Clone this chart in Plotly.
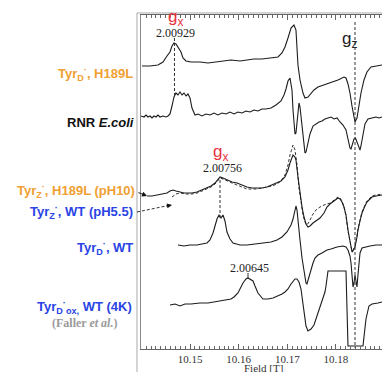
import plotly.graph_objects as go

# ---------------- data (field in T, intensity in arbitrary units) ----------------
field_tyrD_h189l = [10.14014, 10.14178, 10.14342, 10.14445, 10.14527, 10.14589, 10.14630, 10.14671, 10.14712, 10.14753,
                    10.14815, 10.14856, 10.14918, 10.15021, 10.15206, 10.15370, 10.15534, 10.15699, 10.15843, 10.16028,
                    10.16192, 10.16315, 10.16480, 10.16665, 10.16808, 10.16891, 10.16952, 10.17014, 10.17076, 10.17137,
                    10.17178, 10.17219, 10.17261, 10.17322, 10.17363, 10.17425, 10.17487, 10.17548, 10.17630, 10.17754,
                    10.17898, 10.18041, 10.18165, 10.18206, 10.18247, 10.18288, 10.18329, 10.18370, 10.18391, 10.18432,
                    10.18473, 10.18514, 10.18576, 10.18637, 10.18720, 10.18822, 10.18946]
int_tyrD_h189l = [-4, -4, -3, 0, 6, 10, 16, 19, 18, 15,
                  10, 4, 1, 0, 0, -1, 0, 1, 2, 1,
                  2, 3, 3, 4, 5, 9, 15, 24, 34, 37,
                  32, -3, -18, -31, -36, -35, -31, -28, -25, -23,
                  -20, -18, -15, -16, -22, -31, -44, -56, -60, -56,
                  -44, -31, -18, -10, -5, -4, -3]

field_rnr = [10.13993, 10.14055, 10.14096, 10.14137, 10.14178, 10.14219, 10.14260, 10.14301, 10.14342, 10.14383,
             10.14445, 10.14507, 10.14548, 10.14589, 10.14630, 10.14671, 10.14712, 10.14753, 10.14794, 10.14836,
             10.14877, 10.14918, 10.14959, 10.15000, 10.15041, 10.15103, 10.15164, 10.15247, 10.15329, 10.15411,
             10.15493, 10.15575, 10.15658, 10.15740, 10.15822, 10.15904, 10.15986, 10.16069, 10.16151, 10.16233,
             10.16315, 10.16397, 10.16480, 10.16562, 10.16665, 10.16767, 10.16870, 10.16932, 10.16973, 10.17014,
             10.17055, 10.17096, 10.17117, 10.17137, 10.17158, 10.17178, 10.17199, 10.17219, 10.17240, 10.17261,
             10.17302, 10.17322, 10.17363, 10.17384, 10.17425, 10.17466, 10.17528, 10.17589, 10.17651, 10.17713,
             10.17774, 10.17836, 10.17898, 10.17959, 10.18021, 10.18083, 10.18144, 10.18206, 10.18247, 10.18288,
             10.18309, 10.18329, 10.18370, 10.18401, 10.18432, 10.18473, 10.18494, 10.18514, 10.18555, 10.18596,
             10.18658, 10.18740, 10.18822, 10.18884, 10.18946]
int_rnr = [0, -1, 1, -1, 0, -2, 0, -1, 1, -1,
           0, -1, 0, 2, 10, 19, 23, 21, 24, 21,
           23, 20, 22, 18, 8, 1, 2, 0, 2, 1,
           3, 1, 3, 2, 4, 2, 4, 3, 5, 4,
           6, 5, 7, 7, 8, 11, 15, 21, 27, 35,
           38, 26, 6, -9, -18, -17, -6, 8, 13, 9,
           -9, -24, -37, -36, -27, -18, -10, -8, -6, -5,
           -3, -2, -1, -3, -2, -6, -9, -14, -23, -32,
           -33, -30, -23, -22, -26, -32, -34, -30, -17, -8,
           -3, -2, -1, -2, -1]

field_tyrZ_h189l = [10.14116, 10.14219, 10.14322, 10.14425, 10.14527, 10.14589, 10.14651, 10.14712, 10.14794, 10.14877,
                    10.14959, 10.15041, 10.15144, 10.15247, 10.15349, 10.15432, 10.15514, 10.15575, 10.15617, 10.15678,
                    10.15760, 10.15863, 10.15966, 10.16069, 10.16171, 10.16274, 10.16377, 10.16480, 10.16582, 10.16685,
                    10.16788, 10.16870, 10.16952, 10.17014, 10.17055, 10.17096, 10.17117, 10.17158, 10.17178, 10.17219,
                    10.17261, 10.17302, 10.17343, 10.17384, 10.17425, 10.17466, 10.17528, 10.17589, 10.17672, 10.17754,
                    10.17815, 10.17877, 10.17939, 10.18000, 10.18041, 10.18083, 10.18124, 10.18165, 10.18206, 10.18247,
                    10.18288, 10.18329, 10.18350, 10.18391, 10.18432, 10.18452, 10.18494, 10.18535, 10.18596, 10.18637,
                    10.18699, 10.18740, 10.18822, 10.18946]
int_tyrZ_h189l = [-1, -1, 0, 1, 2, 4, 5, 4, 3, 2,
                  2, 2, 3, 5, 7, 9, 12, 16, 18, 17,
                  15, 13, 12, 10, 8, 7, 7, 7, 8, 10,
                  12, 14, 18, 25, 32, 39, 40, 38, 35, 18,
                  0, -12, -22, -29, -32, -31, -28, -26, -23, -18,
                  -12, -9, -7, -5, -3, -4, -7, -12, -20, -35,
                  -47, -57, -56, -52, -42, -35, -26, -18, -11, -7,
                  -4, -2, -1, 0]

field_tyrZ_wt = [10.14630, 10.14712, 10.14794, 10.14918, 10.15041, 10.15144, 10.15247, 10.15349, 10.15432, 10.15514,
                 10.15575, 10.15617, 10.15678, 10.15760, 10.15863, 10.15966, 10.16069, 10.16171, 10.16274, 10.16377,
                 10.16480, 10.16582, 10.16685, 10.16788, 10.16870, 10.16952, 10.17014, 10.17055, 10.17096, 10.17117,
                 10.17158, 10.17199, 10.17240, 10.17281, 10.17322, 10.17363, 10.17404, 10.17445, 10.17487, 10.17528,
                 10.17589, 10.17672, 10.17754, 10.17815, 10.17877, 10.17939, 10.18000, 10.18041, 10.18083, 10.18124,
                 10.18165, 10.18206, 10.18247, 10.18288, 10.18329, 10.18350, 10.18391, 10.18432, 10.18452, 10.18494,
                 10.18535, 10.18596, 10.18637, 10.18699, 10.18740, 10.18822, 10.18946]
int_tyrZ_wt = [-2, 1, 2, 1, 1, 2, 4, 6, 8, 11,
               15, 17, 16, 14, 12, 10, 8, 6, 6, 6,
               7, 8, 9, 11, 14, 20, 30, 40, 48, 50,
               45, 30, 7, -8, -20, -27, -30, -27, -23, -19,
               -15, -12, -10, -9, -8, -6, -4, -2, -3, -6,
               -12, -21, -36, -48, -56, -55, -51, -41, -34, -25,
               -17, -10, -6, -3, -1, 0, 1]

field_tyrD_wt = [10.14753, 10.14877, 10.15000, 10.15144, 10.15247, 10.15349, 10.15411, 10.15473, 10.15514, 10.15555,
                 10.15596, 10.15637, 10.15678, 10.15719, 10.15760, 10.15822, 10.15884, 10.16028, 10.16171, 10.16336,
                 10.16500, 10.16665, 10.16788, 10.16891, 10.16993, 10.17076, 10.17117, 10.17158, 10.17178, 10.17199,
                 10.17219, 10.17261, 10.17302, 10.17343, 10.17384, 10.17404, 10.17425, 10.17466, 10.17528, 10.17569,
                 10.17630, 10.17713, 10.17815, 10.17898, 10.18021, 10.18144, 10.18206, 10.18247, 10.18288, 10.18309,
                 10.18329, 10.18350, 10.18370, 10.18391, 10.18411, 10.18432, 10.18452, 10.18473, 10.18494, 10.18535,
                 10.18596, 10.18699, 10.18822, 10.18946]
int_tyrD_wt = [0, -1, 0, 0, 1, 2, 5, 12, 19, 26,
               30, 27, 30, 24, 13, 6, 2, 0, 0, 1,
               2, 3, 5, 8, 13, 20, 26, 37, 39, 35,
               23, 5, -13, -28, -38, -39, -35, -28, -18, -13,
               -10, -8, -5, -4, -2, -1, -2, -5, -11, -18,
               -29, -42, -38, -30, -36, -42, -30, -17, -8, -3,
               -2, -1, 0, 0]

field_tyrDox_wt = [10.14589, 10.14692, 10.14794, 10.14897, 10.15021, 10.15206, 10.15370, 10.15493, 10.15637, 10.15740,
                   10.15843, 10.15904, 10.15986, 10.16089, 10.16151, 10.16192, 10.16233, 10.16295, 10.16336, 10.16397,
                   10.16500, 10.16603, 10.16706, 10.16808, 10.16891, 10.16952, 10.17014, 10.17076, 10.17117, 10.17158,
                   10.17199, 10.17240, 10.17281, 10.17322, 10.17343, 10.17384, 10.17425, 10.17487, 10.17548, 10.17610,
                   10.17672, 10.17733, 10.17774, 10.17795, 10.17836, 10.18206, 10.18247, 10.18555, 10.18617, 10.18678,
                   10.18740, 10.18863, 10.18946]
int_tyrDox_wt = [-1, 0, -2, 0, 0, 1, 1, 2, 3, 4,
                 5, 7, 11, 21, 25, 26, 25, 23, 18, 11,
                 5, 5, 6, 8, 10, 12, 15, 20, 23, 25,
                 25, 22, 15, 2, -9, -22, -27, -25, -21, -12,
                 -3, 5, 12, 18, 33, 33, -42, -42, -15, -2,
                 0, 1, 2]

# vertical stacking offsets of the spectra
offsets = [310, 256, 177, 177, 127, 68]

# g-value markers
g_values = ["2.00929", "2.00756", "2.00645"]
g_fields = [10.14681, 10.15617, 10.16192]
gz_field = 10.18391

tick_vals = [10.15, 10.16, 10.17, 10.18]
tick_text = ["10.15", "10.16", "10.17", "10.18"]

ORANGE = "#F0A033"
BLUE = "#2A44E6"
LINE = "#1c1c1c"

fig = go.Figure()

series = [
    (field_tyrD_h189l, int_tyrD_h189l, offsets[0], "solid", 1.1),
    (field_rnr, int_rnr, offsets[1], "solid", 1.1),
    (field_tyrZ_h189l, int_tyrZ_h189l, offsets[2], "solid", 1.1),
    (field_tyrZ_wt, int_tyrZ_wt, offsets[3], "3px,2px", 0.9),
    (field_tyrD_wt, int_tyrD_wt, offsets[4], "solid", 1.1),
    (field_tyrDox_wt, int_tyrDox_wt, offsets[5], "solid", 1.1),
]
for fx, iy, off, dash, w in series:
    fig.add_trace(go.Scatter(x=fx, y=[off + v for v in iy], mode="lines",
                             line=dict(color=LINE, width=w, dash=dash),
                             hoverinfo="skip", showlegend=False))

X0, X1 = 10.13993, 10.18946
Y0, Y1 = 23, 357

# dashed g lines
fig.add_shape(type="line", x0=g_fields[0], x1=g_fields[0], y0=334, y1=275,
              line=dict(color="#333", width=1, dash="3px,2px"))
fig.add_shape(type="line", x0=g_fields[1], x1=g_fields[1], y0=192, y1=154,
              line=dict(color="#333", width=1, dash="3px,2px"))
fig.add_shape(type="line", x0=gz_field, x1=gz_field, y0=350, y1=24,
              line=dict(color="#333", width=1, dash="3px,2px"))
fig.add_shape(type="line", x0=g_fields[2], x1=g_fields[2], y0=99, y1=94,
              line=dict(color="#333", width=1))

# outer grey frame
fig.add_shape(type="rect", xref="paper", yref="paper", x0=-0.0166, x1=1.2, y0=-0.2, y1=1.006,
              line=dict(color="#aaaaaa", width=1), layer="below")

serif = "Liberation Serif, Times New Roman, serif"
sans = "Liberation Sans, Arial, sans-serif"

def ann(x, y, text, size, color, family, xanchor="center", xref="x", yref="y"):
    fig.add_annotation(x=x, y=y, xref=xref, yref=yref, text=text, showarrow=False,
                       font=dict(size=size, color=color, family=family),
                       xanchor=xanchor, yanchor="middle")

ann(10.14692, 354, "g<sub>x</sub>", 17, "#E8333F", sans)
ann(10.14692, 339, g_values[0], 12, "#222", serif)
ann(10.15617, 219, "g<sub>x</sub>", 17, "#E8333F", sans)
ann(10.15658, 204, g_values[1], 12, "#222", serif)
ann(10.16213, 104, g_values[2], 12, "#222", serif)
ann(10.18288, 332, "g<sub>z</sub>", 17, "#222", sans)

# left labels
LX = (135 - 141) / 241
ann(LX, 298, "<b>Tyr<sub>D</sub><sup>·</sup>, H189L</b>", 13, ORANGE, sans, "right", "paper")
ann(LX + 0.004, 250, "<b>RNR <i>E.coli</i></b>", 13, "#111", sans, "right", "paper")
ann(LX + 0.008, 181, "<b>Tyr<sub>Z</sub><sup>·</sup>, H189L (pH10)</b>", 13, ORANGE, sans, "right", "paper")
ann(LX, 160, "<b>Tyr<sub>Z</sub><sup>·</sup>, WT (pH5.5)</b>", 13, BLUE, sans, "right", "paper")
ann(LX, 124, "<b>Tyr<sub>D</sub><sup>·</sup>, WT</b>", 13, BLUE, sans, "right", "paper")
ann(LX - 0.004, 65, "<b>Tyr<sub>D</sub><sup>·</sup><sub>ox,</sub> WT (4K)</b>", 13, BLUE, sans, "right", "paper")
ann((119 - 141) / 241, 49, "<b>(Faller <i>et al.</i>)</b>", 12, "#9a9a9a", serif, "right", "paper")

# arrows from labels
fig.add_annotation(x=10.14116, y=176, ax=-10, ay=-4, axref="pixel", ayref="pixel", text="",
                   showarrow=True, arrowhead=2, arrowsize=1, arrowwidth=1, arrowcolor="#111")
fig.add_shape(type="line", xref="paper", yref="paper", x0=-0.0166, y0=(349 - 212) / 334,
              x1=(168 - 141) / 241, y1=(349 - 205.6) / 334,
              line=dict(color="#333", width=1, dash="3px,2px"))
fig.add_annotation(x=10.14630, y=167, ax=-7, ay=1.2, axref="pixel", ayref="pixel", text="",
                   showarrow=True, arrowhead=2, arrowsize=1, arrowwidth=1, arrowcolor="#111")

# axis title
ann((263 - 141) / 241, (349 - 368) / 334, "Field [T]", 11, "#333", serif, "center", "paper", "paper")

fig.update_layout(
    width=382, height=372, autosize=False,
    margin=dict(l=141, r=0, t=15, b=23, pad=0),
    paper_bgcolor="white", plot_bgcolor="white",
    showlegend=False,
    xaxis=dict(range=[X0, X1], showgrid=False, zeroline=False,
               showline=True, linecolor="#666", linewidth=1, mirror="ticks",
               ticks="inside", ticklen=5, tickcolor="#666", tickwidth=1,
               tickvals=tick_vals, ticktext=tick_text,
               tickfont=dict(family=serif, size=11, color="#333"),
               minor=dict(ticks="inside", ticklen=3, dtick=0.001, tick0=10.15,
                          tickcolor="#666", tickwidth=1)),
    yaxis=dict(range=[Y0, Y1], showgrid=False, zeroline=False, showticklabels=False,
               ticks="", showline=True, linecolor="#888", linewidth=1, mirror=False),
)

fig.write_html("out.html", config={"displayModeBar": False},
               post_script="document.body.style.margin='0';")
